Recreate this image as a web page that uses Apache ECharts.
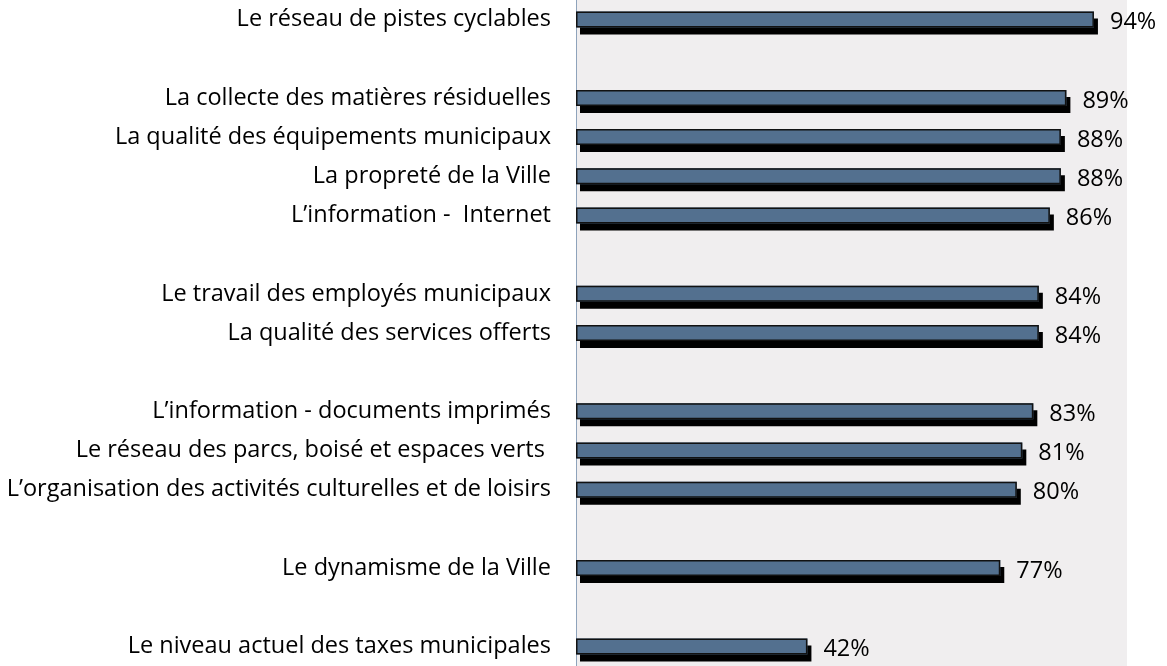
<!DOCTYPE html>
<html>
<head>
<meta charset="utf-8">
<script src="https://cdn.jsdelivr.net/npm/echarts@6/dist/echarts.min.js"></script>
<style>
  html, body { margin: 0; padding: 0; background: #fff; }
  #chart { width: 1167px; height: 666px; }
</style>
</head>
<body>
<div id="chart"></div>
<script>
// catégories (les chaînes vides font les espaces entre groupes)
const categories = [
  'Le réseau de pistes cyclables',
  '',
  'La collecte des matières résiduelles',
  'La qualité des équipements municipaux',
  'La propreté de la Ville',
  'L\u2019information -  Internet',
  '',
  'Le travail des employés municipaux',
  'La qualité des services offerts',
  '',
  'L\u2019information - documents imprimés',
  'Le réseau des parcs, boisé et espaces verts ',
  'L\u2019organisation des activités culturelles et de loisirs',
  '',
  'Le dynamisme de la Ville',
  '',
  'Le niveau actuel des taxes municipales'
]
const satisfaction = [94, null, 89, 88, 88, 86, null, 84, 84, null, 83, 81, 80, null, 77, null, 42]

const chart = echarts.init(document.getElementById('chart'))

const option = {
  animation: false,
  grid: {
    left: 576,
    right: 40,
    top: 0,
    height: 672,
    containLabel: false,
    show: true,
    backgroundColor: '#f0eeef',
    borderWidth: 0
  },
  xAxis: {
    type: 'value',
    min: 0,
    max: 100,
    show: false,
    splitLine: { show: false }
  },
  yAxis: {
    type: 'category',
    data: categories,
    inverse: true,
    axisLine: { show: true, lineStyle: { color: '#8ea3bb', width: 1 } },
    axisTick: { show: false },
    axisLabel: {
      color: '#000',
      fontFamily: 'Open Sans',
      fontSize: 23.5,
      margin: 25,
      padding: [4, 0, 0, 0],
      interval: 0
    }
  },
  series: [
    {
      // barre pleine + ombre noire décalée
      type: 'bar',
      data: satisfaction,
      barWidth: 16,
      itemStyle: {
        color: '#53708f',
        borderWidth: 0,
        shadowColor: '#000',
        shadowBlur: 0,
        shadowOffsetX: 4,
        shadowOffsetY: 7
      },
      label: {
        show: true,
        position: 'right',
        distance: 16,
        offset: [0, 3],
        formatter: '{c}%',
        color: '#000',
        fontFamily: 'Open Sans',
        fontSize: 23.5
      }
    },
    {
      // contour par-dessus, sans ombre
      type: 'bar',
      data: satisfaction,
      barWidth: 16,
      barGap: '-100%',
      silent: true,
      itemStyle: {
        color: 'rgba(0,0,0,0)',
        borderColor: '#111',
        borderWidth: 1.5
      }
    }
  ]
}

chart.setOption(option)
</script>
</body>
</html>
